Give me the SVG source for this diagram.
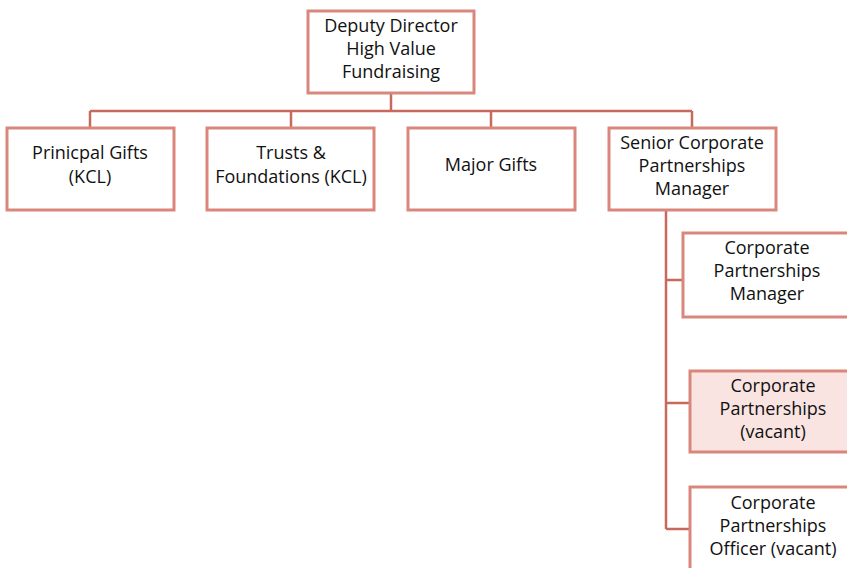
<svg xmlns="http://www.w3.org/2000/svg" width="847" height="568" viewBox="0 0 847 568">
<style>
.box{fill:#ffffff;stroke:#D9877C;stroke-width:3}
.vac{fill:#FAE4E1}
.con{fill:none;stroke:#C8695E;stroke-width:2.5}
text{font-family:"Open Sans","Liberation Sans",sans-serif;font-size:18px;fill:#111;text-anchor:middle}
</style>
<rect width="847" height="568" fill="#ffffff"/>
<g id="connectors">
<path class="con" d="M391 93V111M90 111H692M90 111V128M291 111V128M491 111V128M692 111V128"/>
<path class="con" d="M666 210V529M666 280H683M666 403H690M666 529H690"/>
</g>
<g id="n-deputy"><rect class="box" x="308" y="11" width="166" height="82"/><text x="391" y="32">Deputy Director</text><text x="391" y="55">High Value</text><text x="391" y="78">Fundraising</text></g>
<g id="n-principal"><rect class="box" x="7" y="128" width="167" height="82"/><text x="90" y="159">Prinicpal Gifts</text><text x="90" y="183">(KCL)</text></g>
<g id="n-trusts"><rect class="box" x="207" y="128" width="167" height="82"/><text x="291" y="159">Trusts &amp;</text><text x="291" y="183">Foundations (KCL)</text></g>
<g id="n-major"><rect class="box" x="408" y="128" width="167" height="82"/><text x="491" y="171">Major Gifts</text></g>
<g id="n-senior"><rect class="box" x="609" y="128" width="167" height="82"/><text x="692" y="149">Senior Corporate</text><text x="692" y="172">Partnerships</text><text x="692" y="195">Manager</text></g>
<g id="n-cpm"><rect class="box" x="683" y="233" width="168" height="84"/><text x="767" y="254">Corporate</text><text x="767" y="277">Partnerships</text><text x="767" y="300">Manager</text></g>
<g id="n-cpv"><rect class="box vac" x="690" y="371" width="168" height="81"/><text x="773" y="392">Corporate</text><text x="773" y="415">Partnerships</text><text x="773" y="438">(vacant)</text></g>
<g id="n-cpo"><rect class="box" x="690" y="487" width="168" height="90"/><text x="773" y="509">Corporate</text><text x="773" y="532">Partnerships</text><text x="773" y="555">Officer (vacant)</text></g>
</svg>
